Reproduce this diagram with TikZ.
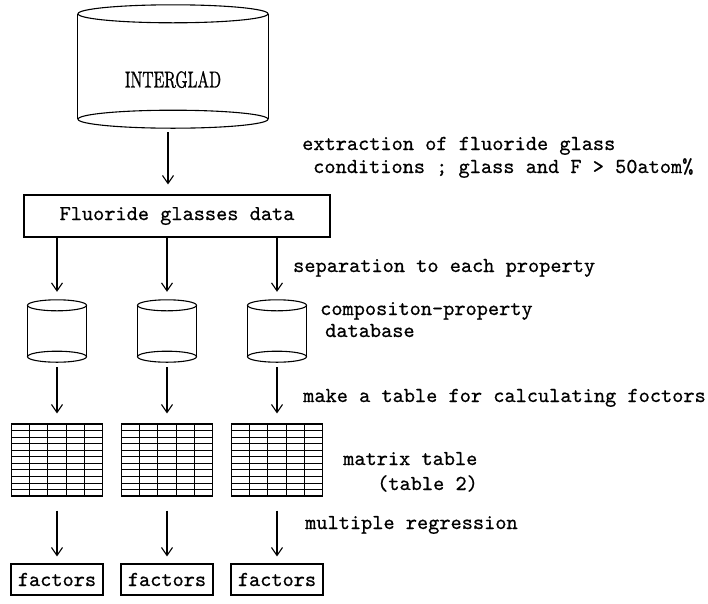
\documentclass[tikz,border=0pt]{standalone}
\usepackage{fontspec}
\usepackage{tikz}
\usetikzlibrary{positioning,arrows.meta,calc}
\newfontfamily\tipomono{lmmono10-regular.otf}[FakeBold=0.6]
\newfontfamily\tiporoman{lmroman10-regular.otf}[FakeBold=1.2]
\newcommand{\letramono}{\fontsize{21.3}{22}\selectfont\tipomono}
\tikzset{
  trazo/.style={line width=1.1pt},
  tambor/.style 2 args={draw=none, inner sep=0pt, minimum width={2*#1},
    append after command={\pgfextra{
      \draw[trazo] ([yshift=-#2]\tikzlastnode.north) ellipse [x radius=#1, y radius=#2];
      \draw[trazo] ([yshift=#2]\tikzlastnode.south) ellipse [x radius=#1, y radius=#2];
      \draw[trazo] ([yshift=-#2]\tikzlastnode.north west) -- ([yshift=#2]\tikzlastnode.south west)
                   ([yshift=-#2]\tikzlastnode.north east) -- ([yshift=#2]\tikzlastnode.south east);
    }}},
  caja/.style={rectangle, draw, trazo, inner sep=0pt, font=\letramono},
  tabla/.style={rectangle, draw, trazo, inner sep=0pt, minimum width=91pt, minimum height=72pt,
    path picture={
      \foreach \k in {1,...,4}
        \draw[line width=0.9pt] ($(path picture bounding box.south west)!\k/5!(path picture bounding box.south east)$)
          -- ($(path picture bounding box.north west)!\k/5!(path picture bounding box.north east)$);
      \foreach \k in {1,...,10}
        \draw[line width=0.7pt] ($(path picture bounding box.south west)!\k/11!(path picture bounding box.north west)$)
          -- ($(path picture bounding box.south east)!\k/11!(path picture bounding box.north east)$);
    }},
  rotulo/.style={anchor=base west, inner sep=0pt, font=\letramono},
  flecha/.style={-{Straight Barb[length=8pt, width=11pt]}, trazo},
}
\begin{document}
\begin{tikzpicture}[x=1pt, y=-1pt]
    \useasboundingbox (0,0) rectangle (708,603);
    % fuente
    \node[tambor={95pt}{9pt}, minimum height=123pt] (interglad) at (173,66.5) {};
    \node[font=\fontsize{23}{23}\selectfont\tiporoman] (nombre) at ([yshift=-13pt]interglad.center)
      {\scalebox{0.68}[1]{INTERGLAD}};
    \node[caja, minimum width=306pt, minimum height=42pt] (datos) at (177,216) {Fluoride glasses data};
    \draw[flecha, shorten <=4pt, shorten >=10pt] ([xshift=-5pt]interglad.south) -- ([xshift=-5pt]interglad.south |- datos.north);
    % tres propiedades
    \foreach \c/\x in {1/57, 2/167, 3/277}{
      \node[tambor={29.5pt}{5.5pt}, minimum height=62pt] (bd\c) at (\x,331) {};
      \node[tabla] (tb\c) at (\x,460) {};
      \node[caja, minimum width=92pt, minimum height=31pt] (fa\c) at (\x,579.5) {factors};
      \draw[flecha, shorten >=8pt] (datos.south -| bd\c) -- (bd\c.north);
      \draw[flecha, shorten <=5pt, shorten >=10pt] (bd\c.south) -- (tb\c.north);
      \draw[flecha, shorten <=14pt, shorten >=7pt] (tb\c.south) -- (fa\c.north);
    }
    % notas
    \node[rotulo] (ext1) at (302,150) {extraction of fluoride glass};
    \node[rotulo] (ext2) at (313,173) {conditions ; glass and F > 50atom\%};
    \node[rotulo] (sep) at (293,272) {separation to each property};
    \node[rotulo] (bdd1) at (320,315) {compositon-property};
    \node[rotulo] (bdd2) at (325,337) {database};
    \node[rotulo] (hac) at (303,402) {make a table for calculating foctors};
    \node[rotulo] (mat1) at (343,465) {matrix table};
    \node[rotulo] (mat2) at (377,490) {(table 2)};
    \node[rotulo] (reg) at (305,529) {multiple regression};
  \end{tikzpicture}
\end{document}
